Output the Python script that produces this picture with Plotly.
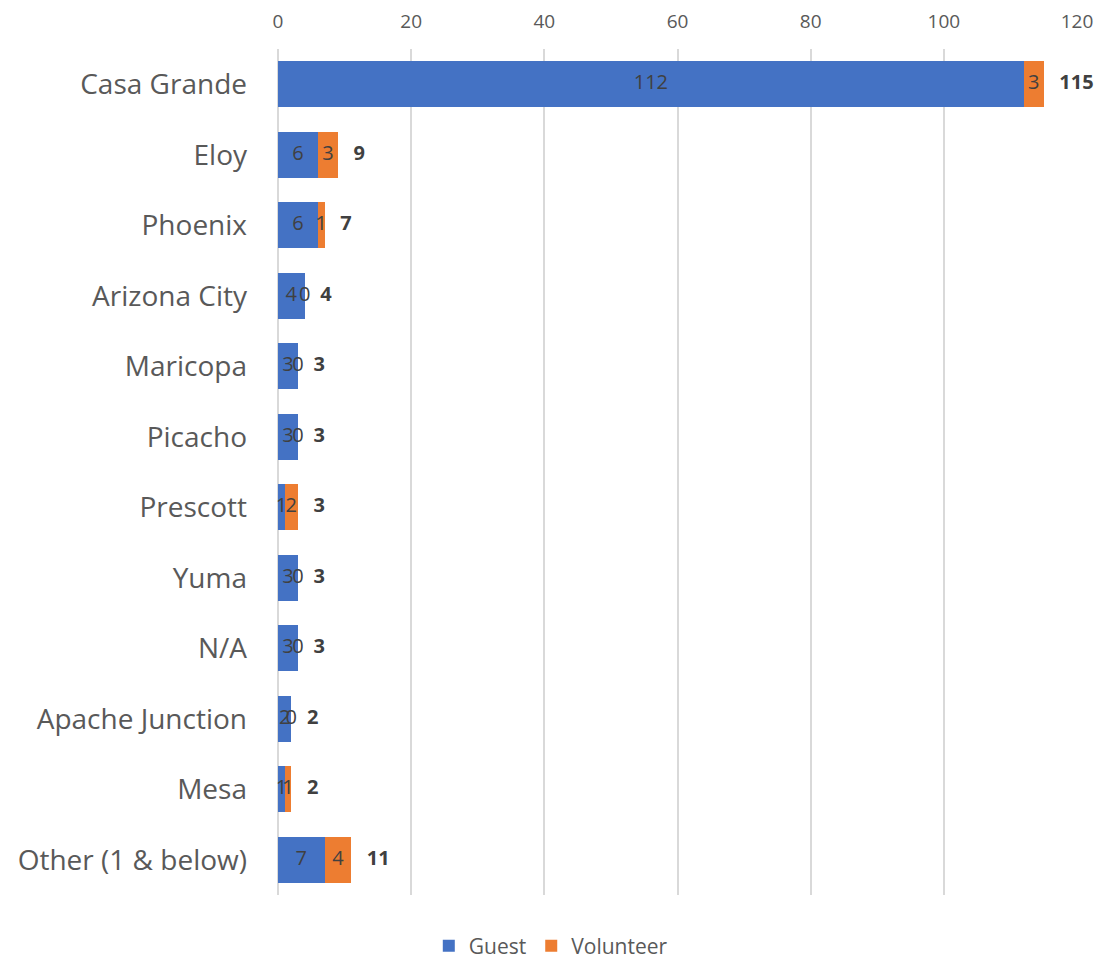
import plotly.graph_objects as go

categories = ["Casa Grande", "Eloy", "Phoenix", "Arizona City", "Maricopa", "Picacho",
              "Prescott", "Yuma", "N/A", "Apache Junction", "Mesa", "Other (1 & below)"]
guest = [112, 6, 6, 4, 3, 3, 1, 3, 3, 2, 1, 7]
volunteer = [3, 3, 1, 0, 0, 0, 2, 0, 0, 0, 1, 4]
totals = [g + v for g, v in zip(guest, volunteer)]
x_ticks = [0, 20, 40, 60, 80, 100, 120]

BLUE = "#4472C4"
ORANGE = "#ED7D31"
FONT = "Open Sans"

fig = go.Figure()
fig.add_trace(go.Bar(y=categories, x=guest, name="Guest", orientation="h",
                     marker=dict(color=BLUE, line=dict(width=0)), hoverinfo="x+y"))
fig.add_trace(go.Bar(y=categories, x=volunteer, name="Volunteer", orientation="h",
                     marker=dict(color=ORANGE, line=dict(width=0)), hoverinfo="x+y"))

# segment labels (centered in each segment, including zero-width ones)
fig.add_trace(go.Scatter(y=categories, x=[g / 2 for g in guest], mode="text",
                         text=[str(g) for g in guest], textposition="middle center",
                         textfont=dict(family=FONT, size=20, color="#404040"),
                         showlegend=False, hoverinfo="skip", cliponaxis=False))
fig.add_trace(go.Scatter(y=categories, x=[g + v / 2 for g, v in zip(guest, volunteer)], mode="text",
                         text=[str(v) for v in volunteer], textposition="middle center",
                         textfont=dict(family=FONT, size=20, color="#404040"),
                         showlegend=False, hoverinfo="skip", cliponaxis=False))
# totals
fig.add_trace(go.Scatter(y=categories, x=totals, mode="text",
                         text=["   " + str(t) for t in totals], textposition="middle right",
                         textfont=dict(family=FONT, size=20, color="#404040"),
                         texttemplate="<b>%{text}</b>",
                         showlegend=False, hoverinfo="skip", cliponaxis=False))

fig.update_layout(
    barmode="stack",
    bargap=0.35,
    width=1101, height=951,
    margin=dict(l=270, r=32, t=41, b=64),
    plot_bgcolor="white", paper_bgcolor="white",
    font=dict(family=FONT, color="#595959"),
    legend=dict(orientation="h", x=0.493, xref="container", xanchor="center",
                y=13 / 951, yref="container", yanchor="middle",
                font=dict(family=FONT, size=21, color="#595959"),
                itemwidth=30, traceorder="normal"),
    xaxis=dict(side="top", range=[0, 120], tickvals=x_ticks, ticktext=[str(t) for t in x_ticks],
               showgrid=True, gridcolor="#D9D9D9", gridwidth=2, zeroline=True,
               zerolinecolor="#D9D9D9", zerolinewidth=2, automargin=False,
               tickfont=dict(family=FONT, size=19, color="#595959"), ticks="", ticklabelstandoff=16),
    yaxis=dict(range=[len(categories) - 0.5, -0.5], categoryorder="array", categoryarray=categories,
               showgrid=False, zeroline=False, ticks="", ticklabelstandoff=30, automargin=False,
               tickfont=dict(family=FONT, size=28, color="#595959")),
)

fig.write_html("out.html")
